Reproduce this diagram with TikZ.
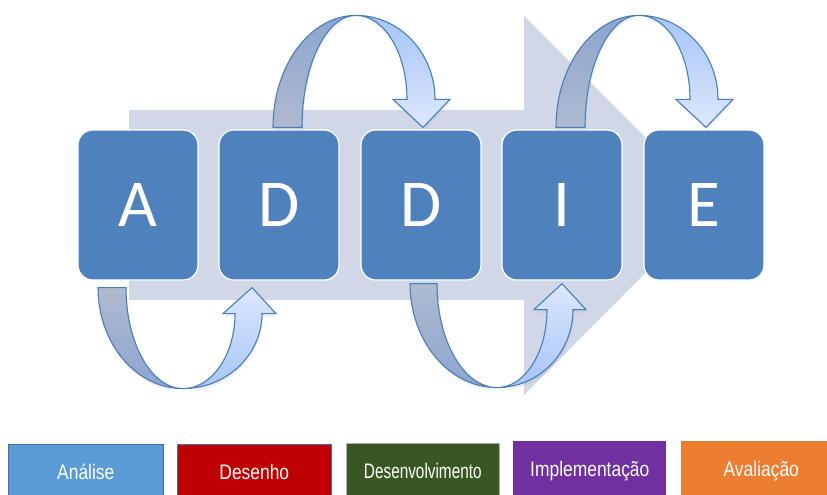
\documentclass[tikz,border=0pt]{standalone}
\usepackage{fontspec}
\usetikzlibrary{shadows}
\setmainfont{Liberation Sans}
\newfontfamily\narrowfont[FakeStretch=0.83]{Liberation Sans}
\newfontfamily\letterfont{Carlito}
\definecolor{boxblue}{HTML}{4F81BD}
\definecolor{bgarrow}{HTML}{D0D8E7}
\definecolor{arrline}{HTML}{4A7EBB}
\definecolor{backdark}{HTML}{8DA5D0}
\definecolor{backlight}{HTML}{AEBACF}
\definecolor{frontdark}{HTML}{A5C4F8}
\definecolor{frontlight}{HTML}{DDE8FC}
\definecolor{cAnalise}{HTML}{5B9BD5}
\definecolor{cDesenho}{HTML}{C00000}
\definecolor{cDesenv}{HTML}{385723}
\definecolor{cImpl}{HTML}{7030A0}
\definecolor{cAval}{HTML}{ED7D31}
\definecolor{bAnalise}{HTML}{41719C}
\definecolor{bDesenv}{HTML}{A9B2A4}
\begin{document}
\begin{tikzpicture}[x=1pt,y=-1pt,
  letterbox/.style={rectangle, rounded corners=15pt, fill=boxblue, draw=white, line width=1.2pt,
    minimum width=120pt, minimum height=150pt, inner sep=0pt, text=white,
    font=\letterfont\fontsize{67}{67}\selectfont},
  ribbon/.style={draw=arrline, line width=1.1pt,
    drop shadow={opacity=0.12, shadow xshift=1pt, shadow yshift=-3pt}},
  legendbox/.style={rectangle, anchor=north west, minimum height=60pt, inner sep=0pt,
    text=white, text height=15pt, text depth=4pt, line width=0.6pt,
    font=\narrowfont\fontsize{21}{21}\selectfont}
]
\useasboundingbox (0,0) rectangle (827,495);
% background arrow
\fill[bgarrow] (129,110) -- (524,110) -- (524,16) -- (713,205) -- (524,395) -- (524,300) -- (129,300) -- cycle;
% letter boxes
\node[letterbox] (a)  at (138,205) {A};
\node[letterbox] (d1) at (279,205) {D};
\node[letterbox] (d2) at (421,205) {D};
\node[letterbox] (i)  at (562,205) {I};
\node[letterbox] (e)  at (704,205) {E};
% top arrows
\foreach \src in {d1,i}{
\begin{scope}[shift={(\src.north)}]
  \path[ribbon, top color=backdark, bottom color=backlight]
    (-6,-2) .. controls (-6,-64) and (31.2,-114) .. (77,-114)
    .. controls (47.2,-114) and (23,-64) .. (23,-2) -- cycle;
  \path[ribbon, top color=frontdark, bottom color=frontlight]
    (77,-114) .. controls (120.6,-114) and (156,-76.4) .. (156,-30)
    -- (171,-30) -- (144,-2) -- (114,-30) -- (128,-30)
    .. controls (128,-76.4) and (105.2,-114) .. (77,-114) -- cycle;
\end{scope}}
% bottom arrow 1
\begin{scope}[shift={(a.south)}]
  \path[ribbon, top color=backlight, bottom color=backdark]
    (-40,7) .. controls (-40,62.8) and (-1.9,108) .. (45,108)
    .. controls (13.5,108) and (-12,62.8) .. (-12,7) -- cycle;
  \path[ribbon, top color=frontlight, bottom color=frontdark]
    (45,108) .. controls (88.6,108) and (124,74.4) .. (124,33)
    -- (138,33) -- (114,7) -- (85,33) -- (97,33)
    .. controls (97,74.4) and (73.7,108) .. (45,108) -- cycle;
\end{scope}
% bottom arrow 2
\begin{scope}[shift={(d2.south)}]
  \path[ribbon, top color=backlight, bottom color=backdark]
    (-11,3) .. controls (-11,60.4) and (28,107) .. (76,107)
    .. controls (42.9,107) and (16,60.4) .. (16,3) -- cycle;
  \path[ribbon, top color=frontlight, bottom color=frontdark]
    (76,107) .. controls (118,107) and (152,72.1) .. (152,29)
    -- (165,29) -- (141,3) -- (113,29) -- (126,29)
    .. controls (126,72.1) and (103.6,107) .. (76,107) -- cycle;
\end{scope}
% legend
\node[legendbox, fill=cAnalise, draw=bAnalise, minimum width=155pt] (l1) at (8,444) {Análise};
\node[legendbox, fill=cDesenho, draw=bAnalise, minimum width=154pt] (l2) at (177,444) {Desenho};
\node[legendbox, fill=cDesenv, draw=bDesenv, minimum width=153pt] (l3) at (346,443) {\scalebox{0.88}[1]{Desenvolvimento}};
\node[legendbox, fill=cImpl, minimum width=153pt] (l4) at (513,441) {Implementação};
\node[legendbox, fill=cAval, minimum width=160pt] (l5) at (681,441) {Avaliação};
\end{tikzpicture}
\end{document}
